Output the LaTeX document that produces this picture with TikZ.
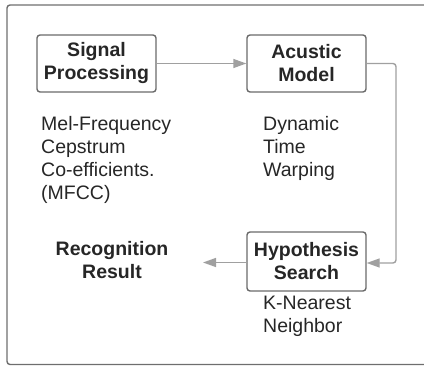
\documentclass[tikz,border=0pt]{standalone}
\usepackage{fontspec}
\setmainfont{Liberation Sans}
\usetikzlibrary{arrows.meta}
\definecolor{frameline}{HTML}{6E6E6E}
\definecolor{boxline}{HTML}{6A6A6A}
\definecolor{conn}{HTML}{A0A0A0}
\definecolor{txt}{HTML}{262626}
\tikzset{
  stagebox/.style={draw=boxline, line width=1.4pt, rounded corners=3pt,
    minimum width=119pt, inner sep=0pt, align=center, text=txt,
    font=\fontsize{19.5}{23}\selectfont\bfseries},
  note/.style={anchor=north west, inner sep=0pt, align=left, text=txt,
    font=\fontsize{19.5}{23}\selectfont},
  conn/.style={draw=conn, line width=1.4pt, rounded corners=3pt,
    -{Triangle[length=13pt,width=9pt]}}
}
\begin{document}
\begin{tikzpicture}[x=1pt,y=-1pt]
\useasboundingbox (0,0) rectangle (424,366);
\draw[frameline, line width=1.4pt, rounded corners=3pt] (7,5) rectangle (432,364.5);
\node[stagebox, minimum height=57pt] (sp) at (96.5,63.5) {Signal\\Processing};
\node[stagebox, minimum height=57pt] (am) at (306.5,63.5) {Acustic\\Model};
\node[stagebox, minimum height=59pt] (hs) at (306.5,261.5) {Hypothesis\\Search};
\node[inner sep=0pt, align=center, text=txt, font=\fontsize{19.5}{23}\selectfont\bfseries] (rr) at (112,260) {Recognition\\Result};
\node[note] (mfcc) at (41,116) {Mel-Frequency\\Cepstrum\\Co-efficients.\\(MFCC)};
\node[note] (dtw) at (263,116) {Dynamic\\Time\\Warping};
\node[note] (knn) at (263,296) {K-Nearest\\Neighbor};
\coordinate (c1) at (396,63.5);
\coordinate (c2) at (396,263);
\coordinate (rrend) at (203,262.5);
\draw[conn] (sp.east |- 0,63.5) -- (am.west |- 0,63.5);
\draw[conn] (am.east |- 0,63.5) -- (c1) -- (c2) -- (hs.east |- 0,263);
\draw[conn] (hs.west |- 0,262.5) -- (rrend);
\end{tikzpicture}
\end{document}
